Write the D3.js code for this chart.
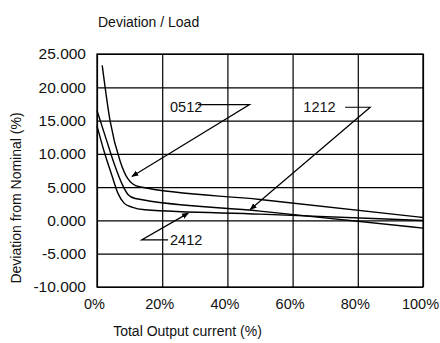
<!DOCTYPE html>
<html>
<head>
<meta charset="utf-8">
<script src="https://cdn.jsdelivr.net/npm/d3@7"></script>
<style>
  body { margin: 0; background: #fff; }
  text { font-family: "Liberation Sans", Arial, sans-serif; fill: #111; }
</style>
</head>
<body>
<svg id="chart" width="440" height="343"></svg>
<script>
// values (x = % of output current, y = deviation %)
var xTicks = [0, 20, 40, 60, 80, 100];
var yTicks = [-10, -5, 0, 5, 10, 15, 20, 25];

var x0512 = [1.6, 4.0, 7.1, 9.4, 10.9, 13.0, 50, 100];
var y0512 = [23.3, 15.0, 8.9, 6.3, 5.5, 5.05, 3.15, 0.45];

var x1212 = [0, 2.5, 5.5, 7.7, 9.5, 11.7, 50, 100];
var y1212 = [16.5, 12.7, 8.2, 5.45, 3.9, 3.3, 1.4, -1.15];

var x2412 = [0, 2.1, 4.6, 6.4, 8.3, 10.7, 14.7, 50, 100];
var y2412 = [14.2, 10.5, 6.7, 4.1, 2.6, 2.0, 1.6, 0.95, 0.0];

// labels + leader lines (data units)
var labelNames = ["0512", "1212", "2412"];
var labelX = [22.4, 63.3, 22.4];
var labelY = [17.1, 17.1, -2.95];
var leaders = [
  [[31.0, 17.4], [46.8, 17.4], [10.7, 6.6]],
  [[76.1, 17.0], [83.8, 17.0], [47.0, 1.65]],
  [[21.8, -2.92], [13.7, -2.92], [28.0, 1.1]]
];

var svg = d3.select("#chart");
var margin = {top: 54, right: 17, bottom: 56, left: 97};
var width = 440 - margin.left - margin.right,
    height = 343 - margin.top - margin.bottom;

var xs = d3.scaleLinear().domain([0, 100]).range([0, width]);
var ys = d3.scaleLinear().domain([-10, 25]).range([height, 0]);

var g = svg.append("g").attr("transform", "translate(" + margin.left + "," + margin.top + ")");

var loc = d3.formatLocale({decimal: ".", thousands: ",", grouping: [3], currency: ["", ""], minus: "-"});

// grid
g.append("g").attr("class", "grid")
  .attr("transform", "translate(0," + height + ")")
  .call(d3.axisBottom(xs).tickValues(xTicks).tickSize(-height).tickFormat(""))
  .call(function(s){ s.select(".domain").remove(); s.selectAll("line").attr("stroke", "#000").attr("stroke-width", 1.2); });
g.append("g").attr("class", "grid")
  .call(d3.axisLeft(ys).tickValues(yTicks).tickSize(-width).tickFormat(""))
  .call(function(s){ s.select(".domain").remove(); s.selectAll("line").attr("stroke", "#000").attr("stroke-width", 1.2); });

g.append("rect").attr("width", width).attr("height", height)
  .attr("fill", "none").attr("stroke", "#000").attr("stroke-width", 1.3);

// tick labels
var xa = g.append("g").attr("transform", "translate(0," + height + ")")
  .call(d3.axisBottom(xs).tickValues(xTicks).tickSize(0).tickPadding(12).tickFormat(function(d){ return d + "%"; }));
xa.select(".domain").remove();
xa.selectAll("text").attr("font-size", 14.5).attr("dx", -3).style("font-family", "Liberation Sans, Arial, sans-serif");

var ya = g.append("g")
  .call(d3.axisLeft(ys).tickValues(yTicks).tickSize(0).tickPadding(11).tickFormat(loc.format(".3f")));
ya.select(".domain").remove();
ya.selectAll("text").attr("font-size", 15.5).style("font-family", "Liberation Sans, Arial, sans-serif");

// curves
var line = d3.line().x(function(d){ return xs(d[0]); }).y(function(d){ return ys(d[1]); }).curve(d3.curveMonotoneX);
[[x0512, y0512], [x1212, y1212], [x2412, y2412]].forEach(function(s){
  var pts = d3.zip(s[0], s[1]);
  g.append("path").datum(pts).attr("d", line)
    .attr("fill", "none").attr("stroke", "#000").attr("stroke-width", 1.4);
});

// arrowhead
svg.append("defs").append("marker")
  .attr("id", "arr").attr("viewBox", "0 0 10 10").attr("refX", 9).attr("refY", 5)
  .attr("markerWidth", 7).attr("markerHeight", 7).attr("markerUnits", "userSpaceOnUse")
  .attr("orient", "auto")
  .append("path").attr("d", "M0,1 L10,5 L0,9 z").attr("fill", "#000");

var straight = d3.line().x(function(d){ return xs(d[0]); }).y(function(d){ return ys(d[1]); });
leaders.forEach(function(l){
  g.append("path").datum(l).attr("d", straight)
    .attr("fill", "none").attr("stroke", "#000").attr("stroke-width", 1.2)
    .attr("marker-end", "url(#arr)");
});

labelNames.forEach(function(n, i){
  g.append("text").attr("x", xs(labelX[i])).attr("y", ys(labelY[i]))
    .attr("dy", "0.36em").attr("font-size", 14.5).text(n);
});

// titles
svg.append("text").attr("x", 98).attr("y", 27).attr("font-size", 14).text("Deviation / Load");
svg.append("text").attr("x", 187.5).attr("y", 336)
  .attr("text-anchor", "middle").attr("font-size", 14).text("Total Output current (%)");
svg.append("text").attr("transform", "translate(21,198) rotate(-90)")
  .attr("text-anchor", "middle").attr("font-size", 14).text("Deviation from Nominal (%)");
</script>
</body>
</html>
